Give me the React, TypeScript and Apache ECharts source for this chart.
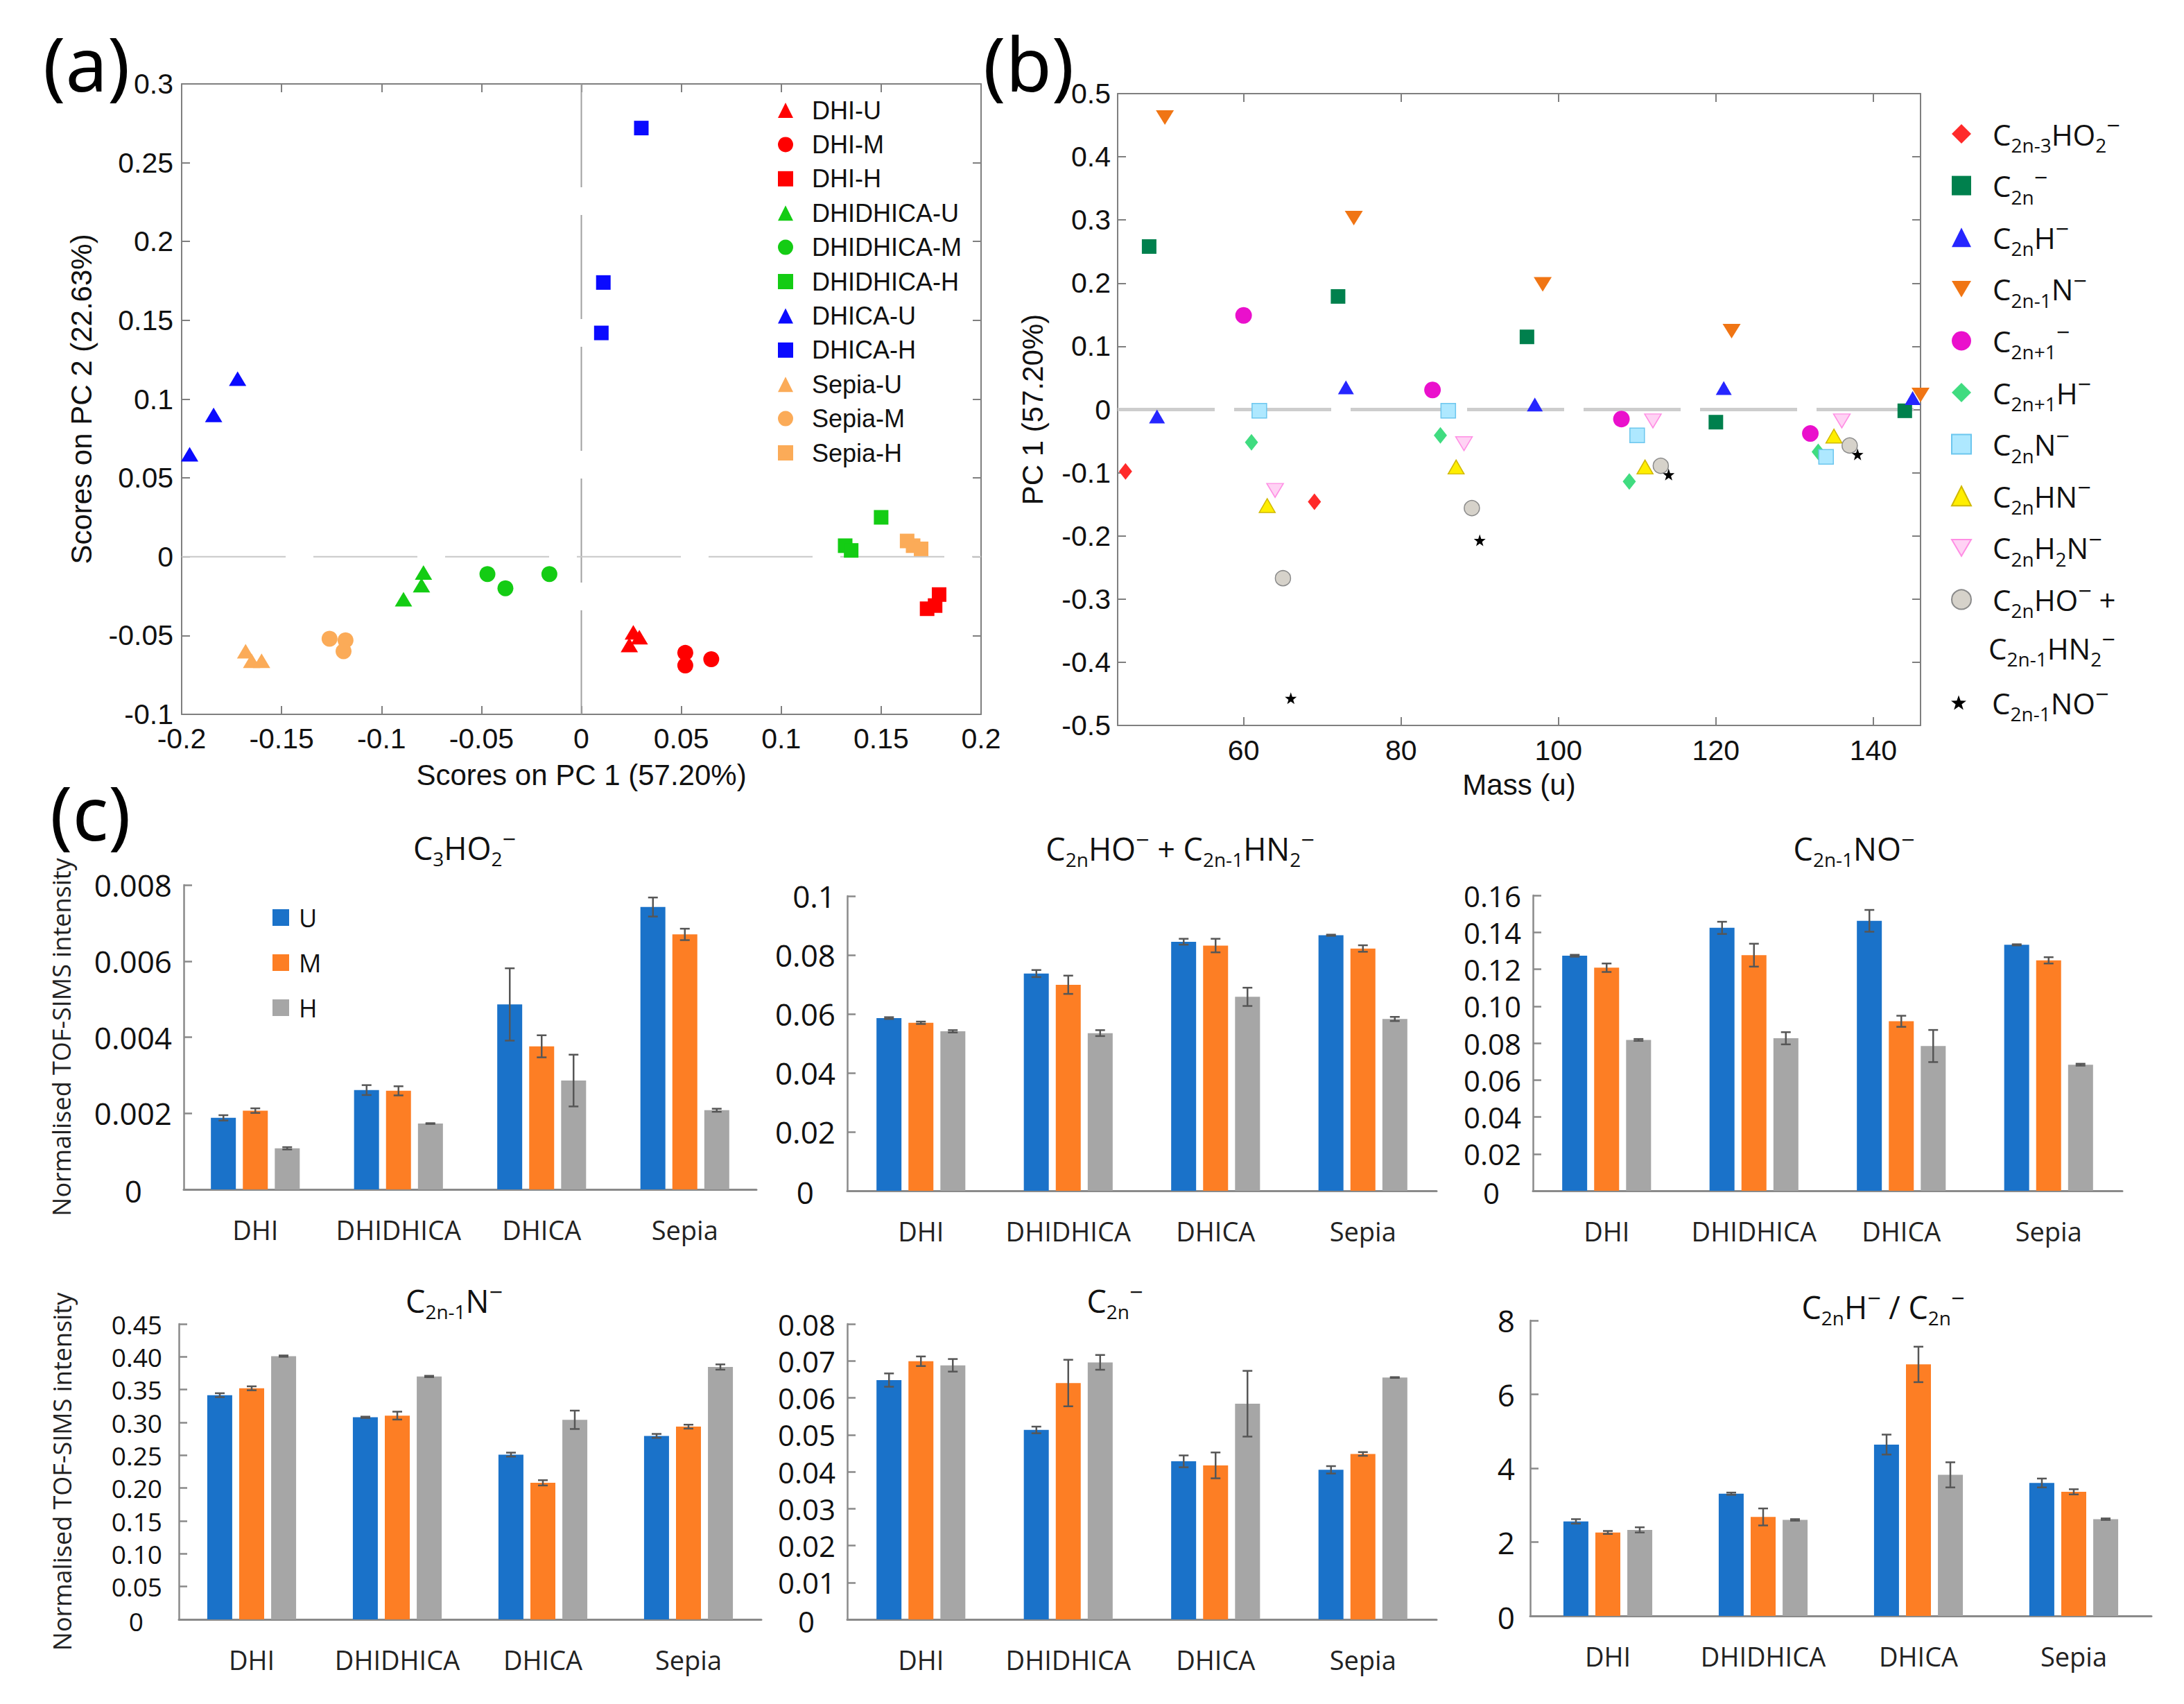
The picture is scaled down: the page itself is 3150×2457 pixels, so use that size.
import React, { useEffect, useRef } from "react";
import * as echarts from "echarts";

// ---------------- Panel (a): PCA scores ----------------
const aDHI_U = [[0.026, -0.048], [0.029, -0.051], [0.024, -0.056]];
const aDHI_M = [[0.052, -0.061], [0.052, -0.069], [0.065, -0.065]];
const aDHI_H = [[0.173, -0.033], [0.177, -0.031], [0.179, -0.024]];
const aDHIDHICA_U = [[-0.089, -0.027], [-0.080, -0.018], [-0.079, -0.010]];
const aDHIDHICA_M = [[-0.047, -0.011], [-0.038, -0.020], [-0.016, -0.011]];
const aDHIDHICA_H = [[0.132, 0.007], [0.135, 0.004], [0.150, 0.025]];
const aDHICA_U = [[-0.196, 0.065], [-0.184, 0.090], [-0.172, 0.113]];
const aDHICA_H = [[0.030, 0.272], [0.011, 0.174], [0.010, 0.142]];
const aSepia_U = [[-0.168, -0.060], [-0.165, -0.066], [-0.160, -0.066]];
const aSepia_M = [[-0.126, -0.052], [-0.118, -0.053], [-0.119, -0.060]];
const aSepia_H = [[0.163, 0.010], [0.166, 0.007], [0.170, 0.005]];
const aNames = ["DHI-U", "DHI-M", "DHI-H", "DHIDHICA-U", "DHIDHICA-M", "DHIDHICA-H", "DHICA-U", "DHICA-H", "Sepia-U", "Sepia-M", "Sepia-H"];

// ---------------- Panel (b): loadings vs mass ----------------
const bC2n3HO2 = [[45, -0.098], [69, -0.146]];
const bC2n = [[48, 0.258], [72, 0.179], [96, 0.115], [120, -0.020], [144, -0.002]];
const bC2nH = [[49, -0.011], [73, 0.035], [97, 0.008], [121, 0.034], [145, 0.018]];
const bC2n1N = [[50, 0.462], [74, 0.303], [98, 0.198], [122, 0.124], [146, 0.023]];
const bC2n1 = [[60, 0.149], [84, 0.031], [108, -0.015], [132, -0.038]];
const bC2n1H = [[61, -0.052], [85, -0.041], [109, -0.114], [133, -0.067]];
const bC2nN = [[62, -0.002], [86, -0.002], [110, -0.041], [134, -0.075]];
const bC2nHN = [[63, -0.152], [87, -0.091], [111, -0.091], [135, -0.042]];
const bC2nH2N = [[64, -0.128], [88, -0.054], [112, -0.018], [136, -0.018]];
const bC2nHO = [[65, -0.267], [89, -0.156], [113, -0.089], [137, -0.057]];
const bC2n1NO = [[66, -0.457], [90, -0.207], [114, -0.103], [138, -0.071]];
const bNames = ["C2n-3HO2−", "C2n−", "C2nH−", "C2n-1N−", "C2n+1−", "C2n+1H−", "C2nN−", "C2nHN−", "C2nH2N−", "C2nHO− +", "C2n-1NO−"];
const bLabels = [
  "C{sub|2n-3}HO{sub|2}{sup|−}",
  "C{sub|2n}{sup|−}",
  "C{sub|2n}H{sup|−}",
  "C{sub|2n-1}N{sup|−}",
  "C{sub|2n+1}{sup|−}",
  "C{sub|2n+1}H{sup|−}",
  "C{sub|2n}N{sup|−}",
  "C{sub|2n}HN{sup|−}",
  "C{sub|2n}H{sub|2}N{sup|−}",
  "C{sub|2n}HO{sup|−} +",
  "C{sub|2n-1}NO{sup|−}",
];
const bContinuation = "C{sub|2n-1}HN{sub|2}{sup|−}";
const bMassTicks = [60, 80, 100, 120, 140];

// ---------------- Panel (c): bar charts ----------------
const CATEGORIES = ["DHI", "DHIDHICA", "DHICA", "Sepia"];
const GROUPS = ["U", "M", "H"];

const c3ho2U = [0.00188, 0.00261, 0.00486, 0.00742];
const c3ho2M = [0.00207, 0.00259, 0.00376, 0.0067];
const c3ho2H = [0.00108, 0.00173, 0.00286, 0.00208];
const c3ho2UErr = [0.00007, 0.00013, 0.00095, 0.00025];
const c3ho2MErr = [0.00006, 0.00012, 0.00029, 0.00015];
const c3ho2HErr = [0.00003, 0.00001, 0.00068, 0.00004];

const c2nhoU = [0.0586, 0.0737, 0.0845, 0.0867];
const c2nhoM = [0.057, 0.0699, 0.0832, 0.0822];
const c2nhoH = [0.0541, 0.0535, 0.0658, 0.0583];
const c2nhoUErr = [0.0003, 0.0012, 0.001, 0.0002];
const c2nhoMErr = [0.0004, 0.0031, 0.0023, 0.0011];
const c2nhoHErr = [0.0004, 0.001, 0.0031, 0.0007];

const c2n1noU = [0.1273, 0.1424, 0.1462, 0.1332];
const c2n1noM = [0.1208, 0.1276, 0.0918, 0.1248];
const c2n1noH = [0.0817, 0.0826, 0.0784, 0.0683];
const c2n1noUErr = [0.0005, 0.0033, 0.0059, 0.0003];
const c2n1noMErr = [0.0023, 0.0062, 0.003, 0.0017];
const c2n1noHErr = [0.0005, 0.0033, 0.0087, 0.0005];

const c2n1nU = [0.3415, 0.3078, 0.251, 0.2795];
const c2n1nM = [0.352, 0.3104, 0.208, 0.2936];
const c2n1nH = [0.401, 0.37, 0.304, 0.3844];
const c2n1nUErr = [0.003, 0.001, 0.003, 0.003];
const c2n1nMErr = [0.003, 0.006, 0.004, 0.003];
const c2n1nHErr = [0.001, 0.001, 0.014, 0.004];

const c2nU = [0.0648, 0.0513, 0.0428, 0.0405];
const c2nM = [0.0699, 0.064, 0.0417, 0.0448];
const c2nH = [0.0688, 0.0696, 0.0584, 0.0655];
const c2nUErr = [0.0018, 0.0009, 0.0016, 0.001];
const c2nMErr = [0.0013, 0.0063, 0.0035, 0.0005];
const c2nHErr = [0.0017, 0.002, 0.0089, 0.0001];

const ratioU = [2.56, 3.31, 4.64, 3.6];
const ratioM = [2.26, 2.68, 6.81, 3.36];
const ratioH = [2.33, 2.6, 3.82, 2.62];
const ratioUErr = [0.06, 0.03, 0.27, 0.12];
const ratioMErr = [0.04, 0.23, 0.48, 0.07];
const ratioHErr = [0.07, 0.02, 0.34, 0.02];

// ---------------- styles ----------------
const W = 3150;
const H = 2457;
const FONT_AB = "'Liberation Sans', Arial, sans-serif";
const FONT_C = "'Open Sans', 'Noto Sans', sans-serif";
const AX = "#7f7f7f";
const BAR_AX = "#8a8a8a";
const BAR_COLORS = ["#1a72c9", "#fd7e24", "#a6a6a6"];
const BAR_W = 36;
const BAR_STEP = 46;
const TRI_DOWN = "path://M0,0L20,0L10,17Z";
const STAR = "path://M0,-10L2.35,-3.24L9.51,-3.09L3.8,1.24L5.88,8.09L0,4L-5.88,8.09L-3.8,1.24L-9.51,-3.09L-2.35,-3.24Z";

function richStyles(sub: number, sup: number) {
  return {
    sub: { fontSize: sub, lineHeight: sub, verticalAlign: "bottom", fontFamily: FONT_C, color: "#111" },
    sup: { fontSize: sup, lineHeight: sup - 4, verticalAlign: "top", fontFamily: FONT_C, color: "#111" },
  };
}

function buildOption() {
  const grids: any[] = [];
  const xAxes: any[] = [];
  const yAxes: any[] = [];
  const series: any[] = [];
  const legends: any[] = [];
  const titles: any[] = [];

  const boxLine = { show: true, onZero: false, lineStyle: { color: AX, width: 2 } };
  const boxTick = { show: true, inside: true, length: 12, lineStyle: { color: AX, width: 2 } };
  const abLabel = { fontSize: 41, lineHeight: 44, fontFamily: FONT_AB, color: "#111" };
  const abName = { fontSize: 42, fontFamily: FONT_AB, color: "#111" };

  // ---- grid a (index 0) ----
  grids.push({ left: 262, top: 121, width: 1153, height: 909 });
  xAxes.push({
    type: "value", gridIndex: 0, min: -0.2, max: 0.2, interval: 0.05,
    axisLine: boxLine, axisTick: boxTick, splitLine: { show: false },
    axisLabel: { ...abLabel, margin: 13 },
    name: "Scores on PC 1 (57.20%)", nameLocation: "middle", nameGap: 66, nameTextStyle: abName,
  });
  xAxes.push({
    type: "value", gridIndex: 0, position: "top", min: -0.2, max: 0.2, interval: 0.05,
    axisLine: boxLine, axisTick: boxTick, splitLine: { show: false }, axisLabel: { show: false },
  });
  yAxes.push({
    type: "value", gridIndex: 0, min: -0.1, max: 0.3, interval: 0.05,
    axisLine: boxLine, axisTick: boxTick, splitLine: { show: false },
    axisLabel: { ...abLabel, margin: 12 },
    name: "Scores on PC 2 (22.63%)", nameLocation: "middle", nameGap: 124, nameTextStyle: abName,
  });
  yAxes.push({
    type: "value", gridIndex: 0, position: "right", min: -0.1, max: 0.3, interval: 0.05,
    axisLine: boxLine, axisTick: boxTick, splitLine: { show: false }, axisLabel: { show: false },
  });

  // ---- grid b (index 1) ----
  grids.push({ left: 1612, top: 135, width: 1158, height: 911 });
  xAxes.push({
    type: "value", gridIndex: 1, min: 44, max: 146,
    axisLine: boxLine, axisTick: { ...boxTick, customValues: bMassTicks }, splitLine: { show: false },
    axisLabel: { ...abLabel, margin: 14, customValues: bMassTicks },
    name: "Mass (u)", nameLocation: "middle", nameGap: 64, nameTextStyle: abName,
  });
  xAxes.push({
    type: "value", gridIndex: 1, position: "top", min: 44, max: 146,
    axisLine: boxLine, axisTick: { ...boxTick, customValues: bMassTicks }, splitLine: { show: false },
    axisLabel: { show: false, customValues: bMassTicks },
  });
  yAxes.push({
    type: "value", gridIndex: 1, min: -0.5, max: 0.5, interval: 0.1,
    axisLine: boxLine, axisTick: boxTick, splitLine: { show: false },
    axisLabel: { ...abLabel, margin: 10 },
    name: "PC 1 (57.20%)", nameLocation: "middle", nameGap: 102, nameTextStyle: abName,
  });
  yAxes.push({
    type: "value", gridIndex: 1, position: "right", min: -0.5, max: 0.5, interval: 0.1,
    axisLine: boxLine, axisTick: boxTick, splitLine: { show: false }, axisLabel: { show: false },
  });

  // ---- panel a series ----
  series.push({
    type: "line", xAxisIndex: 0, yAxisIndex: 0, data: [[0, -0.1], [0, 0.3]], symbol: "none", silent: true, z: 1,
    lineStyle: { color: "#a0a0a0", width: 2, type: [150, 40] },
  });
  series.push({
    type: "line", xAxisIndex: 0, yAxisIndex: 0, data: [[-0.2, 0], [0.2, 0]], symbol: "none", silent: true, z: 1,
    lineStyle: { color: "#c8c8c8", width: 2, type: [150, 40] },
  });
  const RED = "#ff0000", GREEN = "#14cc14", BLUE = "#0a0aff", ORANGE = "#fbab58";
  const aData = [aDHI_U, aDHI_M, aDHI_H, aDHIDHICA_U, aDHIDHICA_M, aDHIDHICA_H, aDHICA_U, aDHICA_H, aSepia_U, aSepia_M, aSepia_H];
  const aColors = [RED, RED, RED, GREEN, GREEN, GREEN, BLUE, BLUE, ORANGE, ORANGE, ORANGE];
  aNames.forEach((nm, i) => {
    const kind = nm.slice(-1);
    const symbol = kind === "U" ? "triangle" : kind === "M" ? "circle" : "rect";
    const size = kind === "U" ? [25, 21] : kind === "M" ? 23 : 21;
    series.push({
      type: "scatter", name: nm, xAxisIndex: 0, yAxisIndex: 0, data: aData[i],
      symbol, symbolSize: size, itemStyle: { color: aColors[i], opacity: 1 }, z: 3,
    });
  });
  legends.push({
    orient: "vertical", left: 1117, top: 136, itemWidth: 22, itemHeight: 22, itemGap: 13.4,
    data: aNames, selectedMode: false,
    textStyle: { fontSize: 36, lineHeight: 36, fontFamily: FONT_AB, color: "#111", padding: [0, 0, 0, 22] },
  });

  // ---- panel b series ----
  series.push({
    type: "line", xAxisIndex: 2, yAxisIndex: 2, data: [[44, 0], [146, 0]], symbol: "none", silent: true, z: 1,
    lineStyle: { color: "#cdcdcd", width: 5, type: [140, 28] },
  });
  const bData = [bC2n3HO2, bC2n, bC2nH, bC2n1N, bC2n1, bC2n1H, bC2nN, bC2nHN, bC2nH2N, bC2nHO, bC2n1NO];
  const bSymbols = ["diamond", "rect", "triangle", TRI_DOWN, "circle", "diamond", "rect", "triangle", TRI_DOWN, "circle", STAR];
  const bSizes: any[] = [[19, 24], 21, [23, 20], [26, 21], 24, [19, 24], 21, [23, 20], [24, 20], 22, 17];
  const bFill = ["#ff2a2a", "#00804d", "#2626ff", "#f07514", "#ea10cc", "#40dc80", "#aee8ff", "#ffee00", "#ffd2f4", "#d6d2ca", "#000000"];
  const bBorder = [null, null, null, null, null, null, "#6cc6ee", "#d0b800", "#ff8ee4", "#8a8a8a", null];
  bNames.forEach((nm, i) => {
    series.push({
      type: "scatter", name: nm, xAxisIndex: 2, yAxisIndex: 2, data: bData[i],
      symbol: bSymbols[i], symbolSize: bSizes[i], z: 3,
      itemStyle: bBorder[i]
        ? { color: bFill[i], borderColor: bBorder[i], borderWidth: 1.5, opacity: 1 }
        : { color: bFill[i], opacity: 1 },
    });
  });
  const bRich = richStyles(28, 34);
  const bText = { fontSize: 42, lineHeight: 60, fontFamily: FONT_C, color: "#111", padding: [0, 0, 0, 26], rich: bRich };
  const bFormatter = (name: string) => bLabels[bNames.indexOf(name)] || name;
  legends.push({
    orient: "vertical", left: 2809, top: 158, itemWidth: 28, itemHeight: 28, itemGap: 14.6,
    data: bNames.slice(0, 10), selectedMode: false, formatter: bFormatter, textStyle: bText,
  });
  legends.push({
    orient: "vertical", left: 2809, top: 978, itemWidth: 22, itemHeight: 22, itemGap: 15,
    data: bNames.slice(10), selectedMode: false, formatter: bFormatter,
    textStyle: { ...bText, padding: [0, 0, 0, 32] },
  });
  titles.push({
    text: bContinuation, left: 2868, top: 934, padding: 0, textAlign: "left", textVerticalAlign: "middle",
    textStyle: { fontSize: 42, lineHeight: 60, fontFamily: FONT_C, color: "#111", fontWeight: "normal", rich: bRich },
  });

  // ---- panel labels ----
  const panelLabel = (text: string, left: number, cy: number) => ({
    text, left, top: cy, padding: 0, textAlign: "left", textVerticalAlign: "middle",
    textStyle: { fontSize: 108, fontFamily: "'Noto Sans', sans-serif", fontWeight: "normal", color: "#000" },
  });
  titles.push(panelLabel("(a)", 62, 90));
  titles.push(panelLabel("(b)", 1418, 90));
  titles.push(panelLabel("(c)", 72, 1170));

  // ---- panel c bar charts ----
  const two = (v: number) => v.toFixed(2);
  const plain = (v: number) => String(+v.toFixed(6));
  const barPanels = [
    { title: "C{sub|3}HO{sub|2}{sup|−}", cx: 670, cy: 1222, grid: { left: 265, top: 1276, width: 826, height: 439 },
      max: 0.008, interval: 0.002, fmt: plain, zeroPad: 43, yName: 159, tickFont: 44,
      values: [c3ho2U, c3ho2M, c3ho2H], errors: [c3ho2UErr, c3ho2MErr, c3ho2HErr] },
    { title: "C{sub|2n}HO{sup|−} + C{sub|2n-1}HN{sub|2}{sup|−}", cx: 1702, cy: 1223, grid: { left: 1222, top: 1292, width: 850, height: 425 },
      max: 0.1, interval: 0.02, fmt: plain, zeroPad: 31, yName: 0, tickFont: 44,
      values: [c2nhoU, c2nhoM, c2nhoH], errors: [c2nhoUErr, c2nhoMErr, c2nhoHErr] },
    { title: "C{sub|2n-1}NO{sup|−}", cx: 2674, cy: 1223, grid: { left: 2211, top: 1291, width: 850, height: 426 },
      max: 0.16, interval: 0.02, fmt: two, zeroPad: 31, yName: 0, tickFont: 42,
      values: [c2n1noU, c2n1noM, c2n1noH], errors: [c2n1noUErr, c2n1noMErr, c2n1noHErr] },
    { title: "C{sub|2n-1}N{sup|−}", cx: 655, cy: 1875, grid: { left: 258, top: 1909, width: 840, height: 426 },
      max: 0.45, interval: 0.05, fmt: two, zeroPad: 27, yName: 151, margin: 24, tickFont: 37,
      values: [c2n1nU, c2n1nM, c2n1nH], errors: [c2n1nUErr, c2n1nMErr, c2n1nHErr] },
    { title: "C{sub|2n}{sup|−}", cx: 1608, cy: 1875, grid: { left: 1222, top: 1909, width: 850, height: 426 },
      max: 0.08, interval: 0.01, fmt: plain, zeroPad: 30, yName: 0, tickFont: 42,
      values: [c2nU, c2nM, c2nH], errors: [c2nUErr, c2nMErr, c2nHErr] },
    { title: "C{sub|2n}H{sup|−} / C{sub|2n}{sup|−}", cx: 2716, cy: 1884, grid: { left: 2207, top: 1904, width: 896, height: 426 },
      max: 8, interval: 2, fmt: plain, zeroPad: 0, yName: 0, margin: 22, tickFont: 44,
      values: [ratioU, ratioM, ratioH], errors: [ratioUErr, ratioMErr, ratioHErr] },
  ];

  const cRich = richStyles(28, 34);
  barPanels.forEach((p: any) => {
    const gi = grids.length;
    grids.push(p.grid);
    const xi = xAxes.length;
    xAxes.push({
      type: "category", gridIndex: gi, data: CATEGORIES,
      axisLine: { show: true, lineStyle: { color: BAR_AX, width: 3 } },
      axisTick: { show: false },
      axisLabel: { fontSize: 38, lineHeight: 40, fontFamily: FONT_C, color: "#222", margin: 38, interval: 0 },
    });
    const yi = yAxes.length;
    const fmt = p.fmt;
    const tf = p.tickFont;
    yAxes.push({
      type: "value", gridIndex: gi, min: 0, max: p.max, interval: p.interval,
      axisLine: { show: true, lineStyle: { color: BAR_AX, width: 2.5 } },
      axisTick: { show: true, inside: true, length: 12, lineStyle: { color: BAR_AX, width: 2.5 } },
      splitLine: { show: false },
      axisLabel: {
        fontSize: tf, lineHeight: tf, fontFamily: FONT_C, color: "#111", margin: p.margin || 17,
        formatter: (v: number) => (Math.abs(v) < 1e-12 ? "{z|0}" : fmt(v)),
        rich: { z: { fontSize: tf, lineHeight: tf, fontFamily: FONT_C, color: "#111", padding: [4, p.zeroPad, 0, 0] } },
      },
      name: p.yName ? "Normalised TOF-SIMS intensity" : "",
      nameLocation: "middle", nameGap: p.yName || 10,
      nameTextStyle: { fontSize: 36, fontFamily: FONT_C, color: "#222" },
    });
    GROUPS.forEach((g, j) => {
      series.push({
        type: "bar", name: g, xAxisIndex: xi, yAxisIndex: yi, data: p.values[j],
        barWidth: BAR_W, barGap: "28%", itemStyle: { color: BAR_COLORS[j] }, z: 2,
      });
    });
    GROUPS.forEach((g, j) => {
      const off = (j - 1) * BAR_STEP;
      series.push({
        type: "custom", xAxisIndex: xi, yAxisIndex: yi, z: 4, silent: true,
        data: p.values[j].map((v: number, i: number) => [i, v, p.errors[j][i]]),
        renderItem: (params: any, api: any) => {
          const ci = api.value(0);
          const v = api.value(1);
          const e = api.value(2);
          const top = api.coord([ci, v + e]);
          const bot = api.coord([ci, v - e]);
          const x = top[0] + off;
          const c = 7;
          const st = { stroke: "#565656", lineWidth: 2.5 };
          return {
            type: "group",
            children: [
              { type: "line", shape: { x1: x, y1: top[1], x2: x, y2: bot[1] }, style: st },
              { type: "line", shape: { x1: x - c, y1: top[1], x2: x + c, y2: top[1] }, style: st },
              { type: "line", shape: { x1: x - c, y1: bot[1], x2: x + c, y2: bot[1] }, style: st },
            ],
          };
        },
      });
    });
    titles.push({
      text: p.title, left: p.cx, top: p.cy, padding: 0, textAlign: "center", textVerticalAlign: "middle",
      textStyle: { fontSize: 45, lineHeight: 60, fontFamily: FONT_C, color: "#111", fontWeight: "normal", rich: cRich },
    });
  });

  legends.push({
    orient: "vertical", left: 388, top: 1300, itemWidth: 24, itemHeight: 24, itemGap: 29,
    icon: "rect", data: GROUPS, selectedMode: false,
    textStyle: { fontSize: 36, lineHeight: 36, fontFamily: FONT_C, color: "#111", padding: [0, 0, 0, 9] },
  });

  return {
    animation: false,
    backgroundColor: "#ffffff",
    title: titles,
    legend: legends,
    grid: grids,
    xAxis: xAxes,
    yAxis: yAxes,
    series,
  };
}

export default function App() {
  const ref = useRef<HTMLDivElement>(null);
  useEffect(() => {
    document.body.style.margin = "0";
    const chart = echarts.init(ref.current as HTMLDivElement, null, { renderer: "svg" });
    chart.setOption(buildOption() as any);
    return () => chart.dispose();
  }, []);
  return <div ref={ref} style={{ width: W, height: H, background: "#fff" }} />;
}
